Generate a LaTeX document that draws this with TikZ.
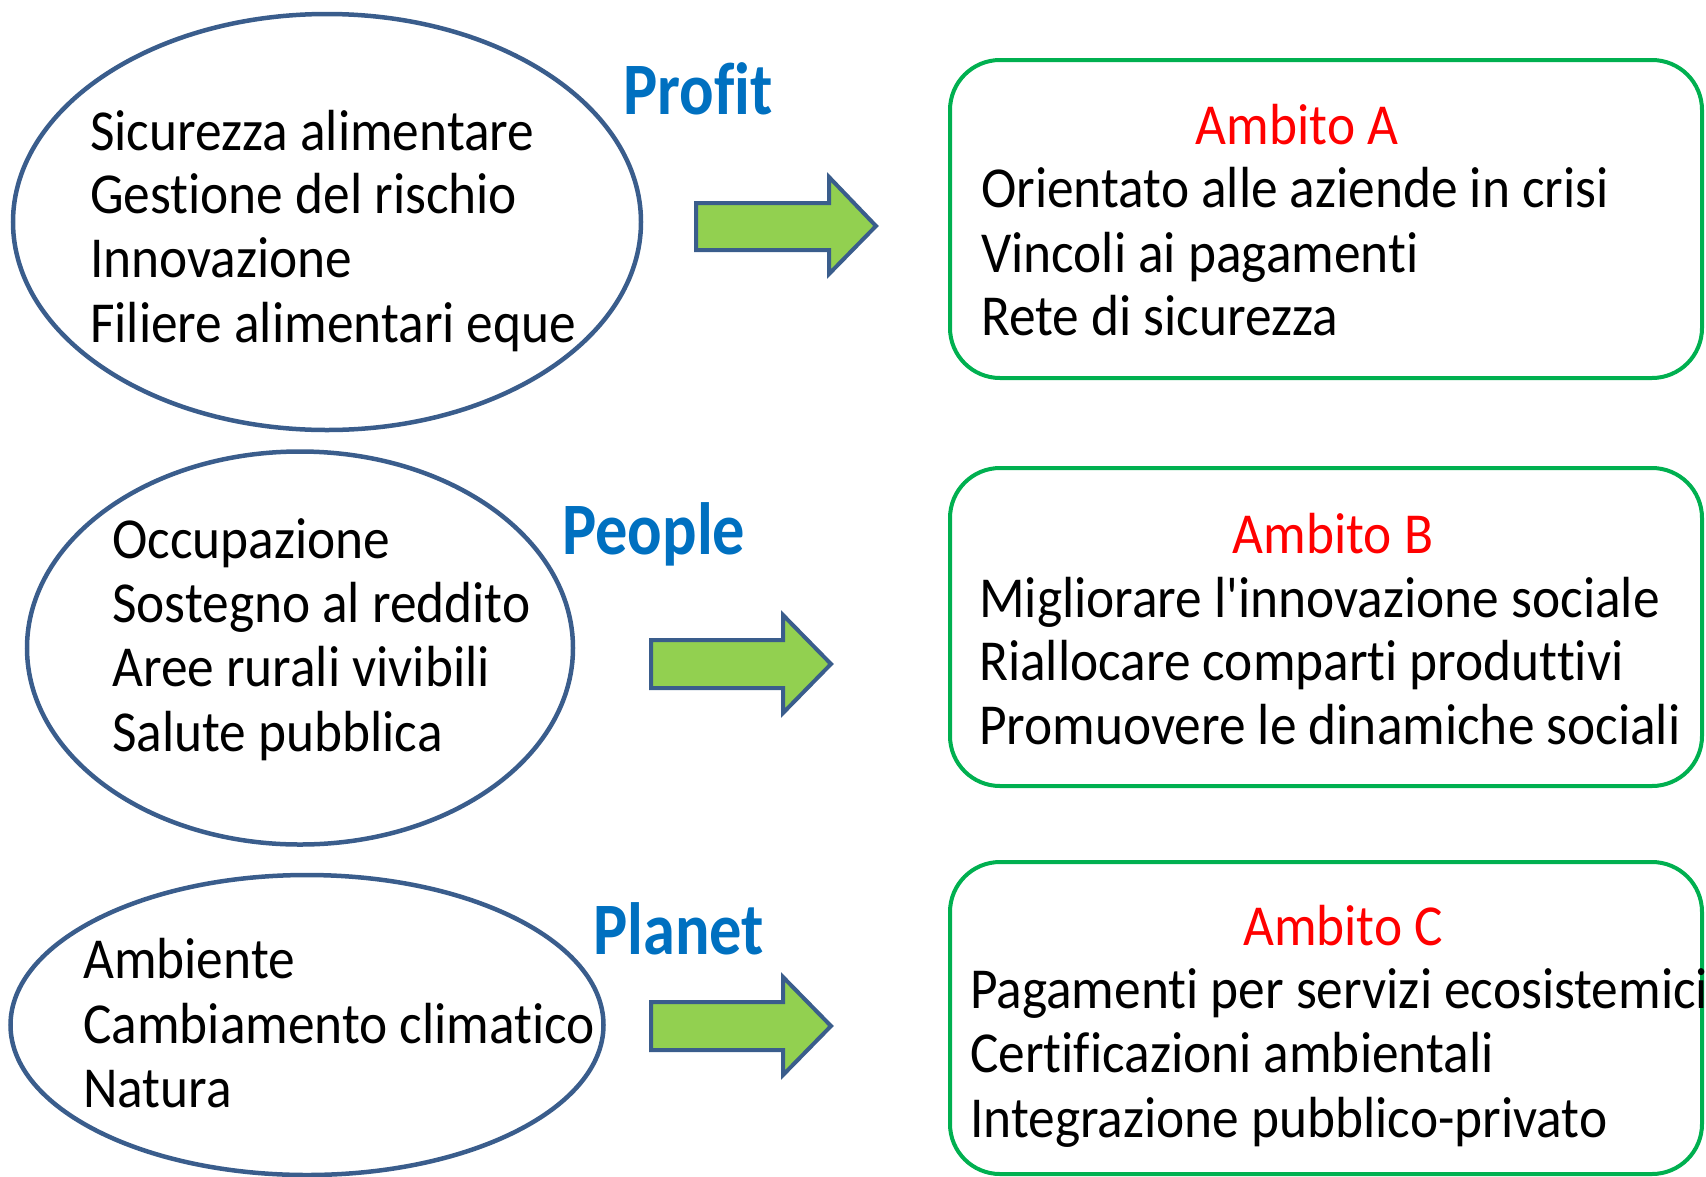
\documentclass[tikz,border=0pt]{standalone}
\usepackage{fontspec}
\setmainfont[Ligatures={TeXOff,NoCommon}, FakeStretch=0.92]{Carlito}
\newfontfamily\lblfont[Ligatures={TeXOff,NoCommon,NoRare,NoDiscretionary}, FakeStretch=0.87]{Carlito}
\usetikzlibrary{shapes.geometric}
\definecolor{outl}{HTML}{3A5D8C}
\definecolor{arrfill}{HTML}{92D050}
\definecolor{boxgreen}{HTML}{00B050}
\definecolor{lblblue}{HTML}{0070C0}
\definecolor{ambred}{HTML}{FF0000}
\tikzset{
  ell/.style={draw=outl, line width=4.5pt, ellipse, inner sep=0pt},
  ambbox/.style={draw=boxgreen, line width=4pt, rectangle, rounded corners=50pt, inner sep=0pt},
  txt/.style={anchor=base west, inner sep=0pt, font=\fontsize{58}{64}\selectfont},
  amb/.style={anchor=base, inner sep=0pt, text=ambred, font=\fontsize{58}{64}\selectfont},
  lbl/.style={anchor=base west, inner sep=0pt, text=lblblue, font=\lblfont\fontsize{74}{80}\selectfont\bfseries},
  bigarrow/.style={draw=outl, fill=arrfill, line width=4pt, line join=miter}
}
\begin{document}
\begin{tikzpicture}[x=1pt,y=-1pt]
\useasboundingbox (0,0) rectangle (1706,1176);
% ellipses
\node[ell, minimum width=628pt, minimum height=416pt] (e1) at (327,222) {};
\node[ell, minimum width=546pt, minimum height=393pt] (e2) at (300,648) {};
\node[ell, minimum width=593pt, minimum height=300pt] (e3) at (307,1025) {};
% ellipse texts
\node[txt] (t11) at (90,150) {Sicurezza alimentare};
\node[txt] (t12) at (90,213) {Gestione del rischio};
\node[txt] (t13) at (90,277) {Innovazione};
\node[txt] (t14) at (90,342) {Filiere alimentari eque};
\node[txt] (t21) at (112,558) {Occupazione};
\node[txt] (t22) at (112,622) {Sostegno al reddito};
\node[txt] (t23) at (112,686) {Aree rurali vivibili};
\node[txt] (t24) at (112,751) {Salute pubblica};
\node[txt] (t31) at (83,978) {Ambiente};
\node[txt] (t32) at (83,1043) {Cambiamento climatico};
\node[txt] (t33) at (83,1107) {Natura};
% labels
\node[lbl] (profit) at (623,114) {Prof\kern0pt it};
\node[lbl] (people) at (562,554) {People};
\node[lbl] (planet) at (593,954) {Planet};
% arrows
\draw[bigarrow] (696,203) -- (829,203) -- (829,177) -- (876,226) -- (829,274) -- (829,250) -- (696,250) -- cycle;
\draw[bigarrow] (651,640) -- (783,640) -- (783,615) -- (831,664) -- (783,713) -- (783,688) -- (651,688) -- cycle;
\draw[bigarrow] (651,1002) -- (783,1002) -- (783,977) -- (831,1026) -- (783,1075) -- (783,1050) -- (651,1050) -- cycle;
% boxes
\node[ambbox, minimum width=752pt, minimum height=318pt] (bA) at (1326,219) {};
\node[ambbox, minimum width=752pt, minimum height=318pt] (bB) at (1326,627) {};
\node[ambbox, minimum width=752pt, minimum height=312pt] (bC) at (1326,1018) {};
% box texts
\node[amb] (ambA) at (1297,144) {Ambito A};
\node[txt] (a1) at (981,207) {Orientato alle aziende in crisi};
\node[txt] (a2) at (981,272) {Vincoli ai pagamenti};
\node[txt] (a3) at (981,335) {Rete di sicurezza};
\node[amb] (ambB) at (1333,553) {Ambito B};
\node[txt] (b1) at (979,617) {Migliorare l'innovazione sociale};
\node[txt] (b2) at (979,680) {Riallocare comparti produttivi};
\node[txt] (b3) at (979,744) {Promuovere le dinamiche sociali};
\node[amb] (ambC) at (1343,945) {Ambito C};
\node[txt] (c1) at (970,1008) {Pagamenti per servizi ecosistemici};
\node[txt] (c2) at (970,1072) {Certificazioni ambientali};
\node[txt] (c3) at (970,1137) {Integrazione pubblico-privato};
\end{tikzpicture}
\end{document}
